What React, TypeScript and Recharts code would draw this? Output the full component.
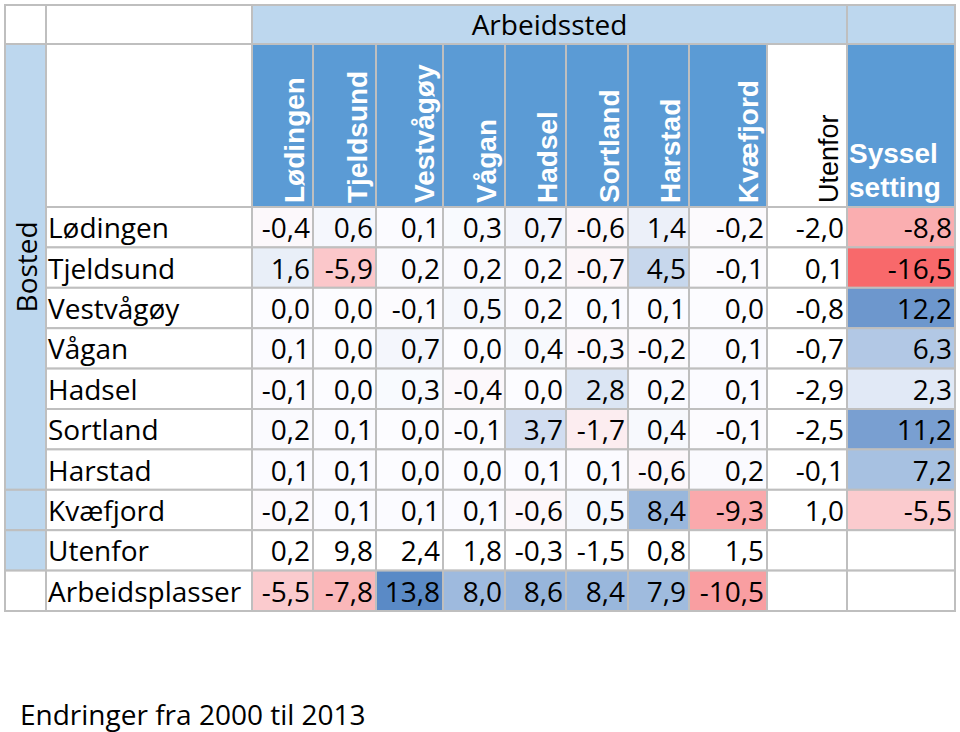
import React from 'react';
import { ScatterChart, Scatter, XAxis, YAxis, Customized } from 'recharts';

// Arbeidssted (columns) and Bosted (rows)
const COLUMNS = ['Lødingen', 'Tjeldsund', 'Vestvågøy', 'Vågan', 'Hadsel', 'Sortland', 'Harstad', 'Kvæfjord', 'Utenfor', 'Syssel setting'];
const ROWS = ['Lødingen', 'Tjeldsund', 'Vestvågøy', 'Vågan', 'Hadsel', 'Sortland', 'Harstad', 'Kvæfjord', 'Utenfor', 'Arbeidsplasser'];

const lodingen = [-0.4, 0.6, 0.1, 0.3, 0.7, -0.6, 1.4, -0.2, -2.0, -8.8];
const tjeldsund = [1.6, -5.9, 0.2, 0.2, 0.2, -0.7, 4.5, -0.1, 0.1, -16.5];
const vestvagoy = [0.0, 0.0, -0.1, 0.5, 0.2, 0.1, 0.1, 0.0, -0.8, 12.2];
const vagan = [0.1, 0.0, 0.7, 0.0, 0.4, -0.3, -0.2, 0.1, -0.7, 6.3];
const hadsel = [-0.1, 0.0, 0.3, -0.4, 0.0, 2.8, 0.2, 0.1, -2.9, 2.3];
const sortland = [0.2, 0.1, 0.0, -0.1, 3.7, -1.7, 0.4, -0.1, -2.5, 11.2];
const harstad = [0.1, 0.1, 0.0, 0.0, 0.1, 0.1, -0.6, 0.2, -0.1, 7.2];
const kvafjord = [-0.2, 0.1, 0.1, 0.1, -0.6, 0.5, 8.4, -9.3, 1.0, -5.5];
const utenfor = [0.2, 9.8, 2.4, 1.8, -0.3, -1.5, 0.8, 1.5, null, null];
const arbeidsplasser = [-5.5, -7.8, 13.8, 8.0, 8.6, 8.4, 7.9, -10.5, null, null];

const VALUES: (number | null)[][] = [lodingen, tjeldsund, vestvagoy, vagan, hadsel, sortland, harstad, kvafjord, utenfor, arbeidsplasser];

const TITLE = 'Arbeidssted';
const SIDE_TITLE = 'Bosted';
const NOTE = 'Endringer fra 2000 til 2013';
const UNSCALED = 'Utenfor'; // row and column left out of the colour scale

// layout
const LEFT = 5;
const COL1 = 46;
const TABLE_L = 252;
const TOP = 5;
const HEAD1 = 44;
const HEAD2 = 207;
const BOTTOM = 611;
const COL_WIDTHS = [61, 63, 67, 62, 61, 62, 61, 78, 80, 108];
const ROW_H = (BOTTOM - HEAD2) / ROWS.length;
const SPAN = COL_WIDTHS.reduce((a, b) => a + b, 0);
const EDGES = COL_WIDTHS.map((_, i) => COL_WIDTHS.slice(0, i).reduce((a, b) => a + b, 0));
const COL_CENTERS = COL_WIDTHS.map((w, i) => EDGES[i] + w / 2);
const ROW_CENTERS = ROWS.map((_, i) => i + 0.5);

const GRID = '#bfbfbf';
const LIGHT = '#bdd7ee';
const BLUE = '#5b9bd5';
const BODY_FONT = '"Open Sans", sans-serif';
const HEAD_FONT = '"Liberation Sans", Arial, sans-serif';

const isScaled = (r: number, c: number) => ROWS[r] !== UNSCALED && COLUMNS[c] !== UNSCALED;

const scaledVals: number[] = [];
VALUES.forEach((row, r) => row.forEach((v, c) => { if (v != null && isScaled(r, c)) scaledVals.push(v); }));
const VMIN = Math.min(...scaledVals);
const VMAX = Math.max(...scaledVals);

const MID = [252, 252, 255];
const RED = [248, 105, 107];
const BLU = [90, 138, 198];
function colorFor(v: number) {
  const t = v < 0 ? v / VMIN : v / VMAX;
  const end = v < 0 ? RED : BLU;
  const c = MID.map((m, i) => Math.round(m + (end[i] - m) * t));
  return `rgb(${c[0]},${c[1]},${c[2]})`;
}

const cells = VALUES.flatMap((row, r) =>
  row.map((v, c) => ({ x: COL_CENTERS[c], y: ROW_CENTERS[r], w: COL_WIDTHS[c], value: v, scaled: isScaled(r, c) }))
);

const fmt = (v: number) => v.toFixed(1).replace('.', ',');

function HeatCell(props: any) {
  const { cx, cy, payload } = props;
  const { w, value, scaled } = payload;
  const fill = value != null && scaled ? colorFor(value) : '#ffffff';
  return (
    <g>
      <rect x={cx - w / 2} y={cy - ROW_H / 2} width={w} height={ROW_H} fill={fill} stroke={GRID} strokeWidth={2} />
      {value != null && (
        <text x={cx + w / 2 - 3} y={cy + 11} textAnchor="end" fontFamily={BODY_FONT} fontSize={28} fill="#000">
          {fmt(value)}
        </text>
      )}
    </g>
  );
}

function ColHeader(props: any) {
  const { x, payload } = props;
  const i = COL_CENTERS.findIndex((c) => Math.abs(c - payload.value) < 0.01);
  if (i < 0) return null;
  const name = COLUMNS[i];
  const w = COL_WIDTHS[i];
  const left = x - w / 2;
  const right = x + w / 2;
  const plain = name === UNSCALED;
  let label;
  if (name.includes(' ')) {
    const [a, b] = name.split(' ');
    label = (
      <text x={left + 2} y={163} fontFamily={HEAD_FONT} fontWeight="bold" fontSize={28} fill="#fff">
        <tspan x={left + 2} y={163}>{a}</tspan>
        <tspan x={left + 2} y={197}>{b}</tspan>
      </text>
    );
  } else {
    label = (
      <text
        transform={`translate(${right - 9},${HEAD2 - 4}) rotate(-90)`}
        fontFamily={HEAD_FONT}
        fontWeight={plain ? 'normal' : 'bold'}
        fontSize={plain ? 27 : 28}
        fill={plain ? '#000' : '#fff'}
      >
        {name}
      </text>
    );
  }
  return (
    <g>
      <rect x={left} y={HEAD1} width={w} height={HEAD2 - HEAD1} fill={plain ? '#fff' : BLUE} stroke={GRID} strokeWidth={2} />
      {label}
    </g>
  );
}

function RowLabel(props: any) {
  const { y, payload } = props;
  const i = ROW_CENTERS.findIndex((c) => Math.abs(c - payload.value) < 0.01);
  if (i < 0) return null;
  return (
    <g>
      <rect x={COL1} y={y - ROW_H / 2} width={TABLE_L - COL1} height={ROW_H} fill="#fff" stroke={GRID} strokeWidth={2} />
      <text x={COL1 + 2} y={y + 11} fontFamily={BODY_FONT} fontSize={28} fill="#000">{ROWS[i]}</text>
    </g>
  );
}

function Decor() {
  const titleRight = TABLE_L + EDGES[COLUMNS.length - 1];
  const mergedRows = ROWS.indexOf('Kvæfjord');
  const mergedBottom = HEAD2 + mergedRows * ROW_H;
  const tableR = TABLE_L + SPAN;
  return (
    <g>
      <rect x={LEFT} y={TOP} width={COL1 - LEFT} height={HEAD1 - TOP} fill="#fff" stroke={GRID} strokeWidth={2} />
      <rect x={COL1} y={TOP} width={TABLE_L - COL1} height={HEAD1 - TOP} fill="#fff" stroke={GRID} strokeWidth={2} />
      <rect x={COL1} y={HEAD1} width={TABLE_L - COL1} height={HEAD2 - HEAD1} fill="#fff" stroke={GRID} strokeWidth={2} />
      <rect x={TABLE_L} y={TOP} width={titleRight - TABLE_L} height={HEAD1 - TOP} fill={LIGHT} stroke={GRID} strokeWidth={2} />
      <rect x={titleRight} y={TOP} width={tableR - titleRight} height={HEAD1 - TOP} fill={LIGHT} stroke={GRID} strokeWidth={2} />
      <text x={(TABLE_L + titleRight) / 2} y={35} textAnchor="middle" fontFamily={BODY_FONT} fontSize={28} fill="#000">{TITLE}</text>
      <rect x={LEFT} y={HEAD1} width={COL1 - LEFT} height={mergedBottom - HEAD1} fill={LIGHT} stroke={GRID} strokeWidth={2} />
      <text
        transform={`translate(37,${(HEAD1 + mergedBottom) / 2}) rotate(-90)`}
        textAnchor="middle"
        fontFamily={BODY_FONT}
        fontSize={28}
        fill="#000"
      >
        {SIDE_TITLE}
      </text>
      {ROWS.slice(mergedRows).map((name, k) => (
        <rect
          key={name}
          x={LEFT}
          y={mergedBottom + k * ROW_H}
          width={COL1 - LEFT}
          height={ROW_H}
          fill={name === 'Arbeidsplasser' ? '#fff' : LIGHT}
          stroke={GRID}
          strokeWidth={2}
        />
      ))}
      <text x={20} y={725} fontFamily={BODY_FONT} fontSize={28} fill="#000">{NOTE}</text>
    </g>
  );
}

export default function App() {
  return (
    <div style={{ position: 'absolute', left: 0, top: 0, width: 960, height: 732, background: '#fff' }}>
      <ScatterChart width={960} height={732} margin={{ top: HEAD1, right: 960 - TABLE_L - SPAN, bottom: 732 - BOTTOM, left: COL1 }}>
        <Customized component={<Decor />} />
        <XAxis
          type="number"
          dataKey="x"
          orientation="top"
          domain={[0, SPAN]}
          ticks={COL_CENTERS}
          interval={0}
          height={HEAD2 - HEAD1}
          axisLine={false}
          tickLine={false}
          tick={<ColHeader />}
        />
        <YAxis
          type="number"
          dataKey="y"
          domain={[0, ROWS.length]}
          reversed
          ticks={ROW_CENTERS}
          interval={0}
          width={TABLE_L - COL1}
          axisLine={false}
          tickLine={false}
          tick={<RowLabel />}
        />
        <Scatter data={cells} shape={<HeatCell />} isAnimationActive={false} />
      </ScatterChart>
    </div>
  );
}
